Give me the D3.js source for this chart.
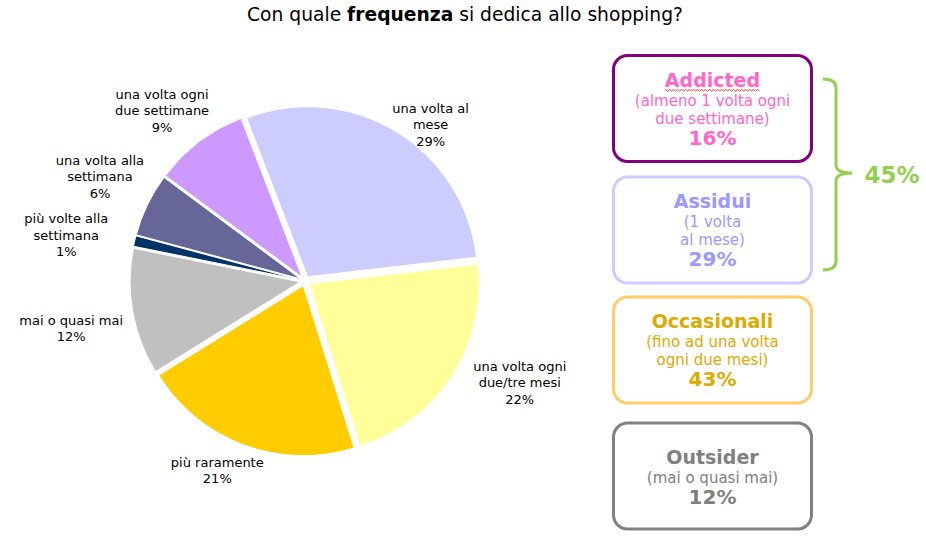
<!DOCTYPE html>
<html><head><meta charset="utf-8">
<script src="https://cdn.jsdelivr.net/npm/d3@7"></script>
<style>body{margin:0;background:#fff} svg{display:block;font-family:"DejaVu Sans",Verdana,sans-serif}</style>
</head><body><svg id="chart" width="926" height="544"></svg>
<script>
// ---- data ----
const categories = ["una volta al mese", "una volta ogni due/tre mesi", "più raramente", "mai o quasi mai",
  "più volte alla settimana", "una volta alla settimana", "una volta ogni due settimane"];
const labelLines = [["una volta al", "mese"], ["una volta ogni", "due/tre mesi"], ["più raramente"], ["mai o quasi mai"],
  ["più volte alla", "settimana"], ["una volta alla", "settimana"], ["una volta ogni", "due settimane"]];
const values = [29, 22, 21, 12, 1, 6, 9];
const sliceColors = ["#CCCCFF", "#FFFF99", "#FFCC00", "#C0C0C0", "#003366", "#666699", "#CC99FF"];

const segNames = ["Addicted", "Assidui", "Occasionali", "Outsider"];
const segDesc = [["(almeno 1 volta ogni", "due settimane)"], ["(1 volta", "al mese)"], ["(fino ad una volta", "ogni due mesi)"], ["(mai o quasi mai)"]];
const segValues = [16, 29, 43, 12];
const segStroke = ["#800080", "#CCCCFF", "#FFCC66", "#808080"];
const segText = ["#FF66CC", "#9999FF", "#DDAA00", "#808080"];

// ---- layout ----
const W = 926, H = 544;
const cx = 305, cy = 281, R = 170, explode = 5;
const labelR = 200;
const labelNudge = [[22, 15], [47, -7], [-18, 2], [-37, 12], [-44, 0], [-25, -17], [-22, -11]];
const startA = -21 * Math.PI / 180;
const svg = d3.select("#chart");

// title
const title = svg.append("text").attr("x", 465).attr("y", 21).attr("text-anchor", "middle")
  .attr("font-size", 18.7).attr("fill", "#000");
title.append("tspan").text("Con quale ");
title.append("tspan").attr("font-weight", "bold").text("frequenza");
title.append("tspan").text(" si dedica allo shopping?");

// pie
const pie = d3.pie().sort(null).value(d => d).startAngle(startA).endAngle(startA + 2 * Math.PI);
const arcs = pie(values);
const arc = d3.arc().innerRadius(0).outerRadius(R);
const g = svg.append("g").attr("transform", `translate(${cx},${cy})`);
g.selectAll("path.slice").data(arcs).join("path").attr("class", "slice")
  .attr("d", arc)
  .attr("fill", (d, i) => sliceColors[i])
  .attr("stroke", "#fff").attr("stroke-width", 1)
  .attr("transform", d => {
    const m = (d.startAngle + d.endAngle) / 2;
    return `translate(${explode * Math.sin(m)},${-explode * Math.cos(m)})`;
  });

// slice labels
const lh = 16.5;
arcs.forEach((d, i) => {
  const m = (d.startAngle + d.endAngle) / 2;
  const x = labelR * Math.sin(m) + labelNudge[i][0];
  const y = -labelR * Math.cos(m) + labelNudge[i][1];
  const lines = labelLines[i].concat([values[i] + "%"]);
  const t = g.append("text").attr("text-anchor", "middle").attr("font-size", 13).attr("fill", "#000");
  lines.forEach((s, j) => {
    t.append("tspan").attr("x", x).attr("y", y + (j - (lines.length - 1) / 2) * lh + 4.5).text(s);
  });
});

// segment boxes
const boxTop = [55.5, 177, 297, 423];
const boxX = 613.5, boxW = 198, boxH = 106, bcx = boxX + boxW / 2;
segNames.forEach((name, i) => {
  const y0 = boxTop[i];
  svg.append("rect").attr("x", boxX).attr("y", y0).attr("width", boxW).attr("height", boxH)
    .attr("rx", 14).attr("ry", 14).attr("fill", "#fff")
    .attr("stroke", segStroke[i]).attr("stroke-width", 3);
  const n = segDesc[i].length;
  let yb = y0 + 31 + (2 - n) * 9.5;
  svg.append("text").attr("x", bcx).attr("y", yb).attr("text-anchor", "middle")
    .attr("font-size", 19).attr("font-weight", "bold").attr("fill", segText[i]).text(name);
  if (i === 0) {
    // spell-check wavy underline as seen in the reference
    const x1 = bcx - 47, x2 = bcx + 47;
    let p = `M${x1},${yb + 3}`;
    for (let x = x1 + 2, k = 0; x <= x2; x += 2, k++) p += `L${x},${yb + (k % 2 === 0 ? 4.5 : 3)}`;
    svg.append("path").attr("d", p).attr("fill", "none").attr("stroke", "#FF0000").attr("stroke-width", 0.8);
  }
  segDesc[i].forEach((s, j) => {
    yb += (j === 0 ? 19 : 18);
    svg.append("text").attr("x", bcx).attr("y", yb).attr("text-anchor", "middle")
      .attr("font-size", 15).attr("fill", segText[i]).text(s);
  });
  yb += 21;
  svg.append("text").attr("x", bcx).attr("y", yb).attr("text-anchor", "middle")
    .attr("font-size", 20).attr("font-weight", "bold").attr("fill", segText[i]).text(segValues[i] + "%");
});

// bracket for Addicted + Assidui
const groupTotal = segValues[0] + segValues[1];
const bT = 79, bB = 270, bM = (bT + bB) / 2 - 1.5, bx = 836;
svg.append("path")
  .attr("d", `M823,${bT} Q${bx},${bT} ${bx},${bT + 9} L${bx},${bM - 8} Q${bx},${bM} 852,${bM} Q${bx},${bM} ${bx},${bM + 8} L${bx},${bB - 9} Q${bx},${bB} 823,${bB}`)
  .attr("fill", "none").attr("stroke", "#92D050").attr("stroke-width", 3);
svg.append("text").attr("x", 892).attr("y", 183).attr("text-anchor", "middle")
  .attr("font-size", 23).attr("font-weight", "bold").attr("fill", "#92D050").text(groupTotal + "%");
</script></body></html>
